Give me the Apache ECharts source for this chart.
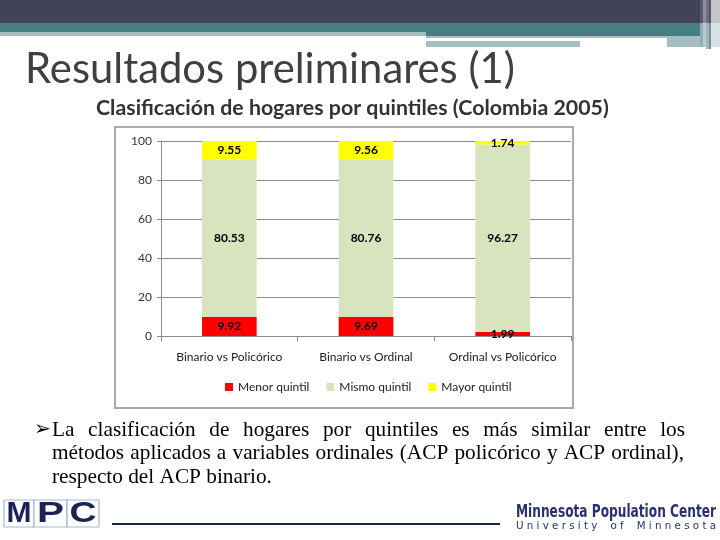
<!DOCTYPE html>
<html>
<head>
<meta charset="utf-8">
<script src="https://cdn.jsdelivr.net/npm/echarts@6/dist/echarts.min.js"></script>
<style>
html,body{margin:0;padding:0;background:#fff;}
#chart{width:720px;height:540px;}
</style>
</head>
<body>
<div id="chart"></div>
<script>
// ---- data ----
const categories = ['Binario vs Policórico', 'Binario vs Ordinal', 'Ordinal vs Policórico'];
const seriesNames = ['Menor quintil', 'Mismo quintil', 'Mayor quintil'];
const menorQuintil = [9.92, 9.69, 1.99];
const mismoQuintil = [80.53, 80.76, 96.27];
const mayorQuintil = [9.55, 9.56, 1.74];
const yTickValues = [0, 20, 40, 60, 80, 100];

// ---- texts ----
const slideTitle = 'Resultados preliminares (1)';
const chartTitle = 'Clasificación de hogares por quintiles (Colombia 2005)';
const bodyLines = [
  'La clasificación de hogares por quintiles es más similar entre los',
  'métodos aplicados a variables ordinales (ACP policórico y ACP ordinal),',
  'respecto del ACP binario.'
];
const logoLetters = ['M', 'P', 'C'];
const centerName = 'Minnesota Population Center';
const univName = 'University of Minnesota';

// ---- helpers for text layout ----
const mctx = document.createElement('canvas').getContext('2d');
function measure(text, size, family, weight) {
  mctx.font = (weight || 'normal') + ' ' + size + 'px ' + family;
  return mctx.measureText(text).width;
}
function fitSize(text, target, family, weight) {
  const w = measure(text, 40, family, weight);
  return 40 * target / w;
}

const graphics = [];
// header bars
graphics.push(
  {type:'rect', shape:{x:0,y:0,width:700,height:23}, style:{fill:'#434357'}},
  {type:'rect', shape:{x:0,y:23,width:426,height:9}, style:{fill:'#457f82'}},
  {type:'rect', shape:{x:426,y:23,width:274,height:13}, style:{fill:'#457f82'}},
  {type:'rect', shape:{x:0,y:32,width:426,height:4}, style:{fill:'#a5bfc1'}},
  {type:'rect', shape:{x:426,y:36,width:274,height:11}, style:{fill:'#a5bfc1'}},
  {type:'rect', shape:{x:426,y:38,width:241,height:3}, style:{fill:'#ffffff'}},
  {type:'rect', shape:{x:580,y:41,width:87,height:6}, style:{fill:'#ffffff'}},
  // right stripes
  {type:'rect', shape:{x:700,y:0,width:20,height:23}, style:{fill:'#c4c4cc'}},
  {type:'rect', shape:{x:700,y:0,width:3,height:23}, style:{fill:'#5a5a6e'}},
  {type:'rect', shape:{x:703,y:0,width:3,height:23}, style:{fill:'#8e8e9c'}},
  {type:'rect', shape:{x:706,y:0,width:3,height:23}, style:{fill:'#6e6e80'}},
  {type:'rect', shape:{x:709,y:0,width:2,height:23}, style:{fill:'#555566'}},
  {type:'rect', shape:{x:700,y:23,width:20,height:24}, style:{fill:'#d6e2e3'}},
  {type:'rect', shape:{x:700,y:23,width:3,height:24}, style:{fill:'#8fb0b2'}},
  {type:'rect', shape:{x:703,y:23,width:3,height:24}, style:{fill:'#b8cccd'}},
  {type:'rect', shape:{x:706,y:23,width:3,height:26}, style:{fill:'#9fb7b9'}},
  {type:'rect', shape:{x:709,y:23,width:2,height:26}, style:{fill:'#7f8f95'}}
);

// slide title
const titleFamily = 'Lato';
const tFont = 42;
const tW = measure(slideTitle, tFont, titleFamily, 'normal');
graphics.push({type:'text', x:25, y:69, scaleX:490/tW, style:{text:slideTitle, x:0, y:0, fontSize:tFont, fontFamily:titleFamily, fill:'#404040', verticalAlign:'middle', align:'left'}});

// chart title
const stSize = fitSize(chartTitle, 513, 'Lato', 'bold');
graphics.push({type:'text', x:96, y:108, style:{text:chartTitle, fontSize:stSize, fontFamily:'Lato', fontWeight:'bold', fill:'#333333', verticalAlign:'middle', align:'left'}});

// chart box
graphics.push({type:'rect', shape:{x:115,y:127,width:458,height:281}, style:{fill:'none', stroke:'#aaaaaa', lineWidth:2}});

// body text
const bodyFamily = '"Liberation Serif"';
const bSize = fitSize(bodyLines[2], 220, bodyFamily, 'normal');
graphics.push({type:'text', x:34, y:430, style:{text:'➢', fontSize:bSize*0.95, fontFamily:'"DejaVu Sans"', fill:'#000', verticalAlign:'middle', align:'left'}});
const lineYs = [430, 453, 477];
const lineRight = [685, 684, null];
bodyLines.forEach((line, i) => {
  if (lineRight[i] === null) {
    graphics.push({type:'text', x:52, y:lineYs[i], style:{text:line, fontSize:bSize, fontFamily:bodyFamily, fill:'#000', verticalAlign:'middle', align:'left'}});
    return;
  }
  const words = line.split(' ');
  const widths = words.map(w => measure(w, bSize, bodyFamily, 'normal'));
  const total = widths.reduce((a,b)=>a+b,0);
  const gap = (lineRight[i] - 52 - total) / (words.length - 1);
  let x = 52;
  words.forEach((w, k) => {
    graphics.push({type:'text', x:x, y:lineYs[i], style:{text:w, fontSize:bSize, fontFamily:bodyFamily, fill:'#000', verticalAlign:'middle', align:'left'}});
    x += widths[k] + gap;
  });
});

// MPC logo
const boxXs = [[4,34],[34,67],[67,99]];
logoLetters.forEach((L, i) => {
  const [x0, x1] = boxXs[i];
  graphics.push({type:'rect', shape:{x:x0,y:500,width:x1-x0,height:27}, style:{fill:'#ffffff', stroke:'#a9b6cf', lineWidth:1.2}});
  const lw = measure(L, 30, '"Liberation Sans"', 'bold');
  graphics.push({type:'text', x:(x0+x1)/2, y:514, scaleX:Math.min(1.35, (x1-x0-5)/lw), style:{text:L, x:0, y:0, fontSize:30, fontFamily:'"Liberation Sans"', fontWeight:'bold', fill:'#1b2356', verticalAlign:'middle', align:'center'}});
});
graphics.push({type:'line', shape:{x1:112,y1:524,x2:500,y2:524}, style:{stroke:'#1b2356', lineWidth:2}});

// Minnesota Population Center
const cFamily = '"DejaVu Sans Condensed", "DejaVu Sans"';
const cW = measure(centerName, 17, cFamily, '600');
graphics.push({type:'text', x:516, y:513, scaleX:200/cW, style:{text:centerName, x:0, y:0, fontSize:17, fontFamily:cFamily, fontWeight:'600', fill:'#2b3070', verticalAlign:'middle', align:'left'}});
const spaced = univName.split('').join(' ').replace(/   /g, '    ');
const uW = measure(spaced, 10, '"DejaVu Sans"', 'normal');
graphics.push({type:'text', x:516, y:526, scaleX:200/uW, style:{text:spaced, x:0, y:0, fontSize:10, fontFamily:'"DejaVu Sans"', fill:'#2b3070', verticalAlign:'middle', align:'left'}});

const chart = echarts.init(document.getElementById('chart'), null, {renderer:'canvas'});
const labelStyle = {show:true, position:'inside', fontSize:12, fontWeight:'bold', color:'#000', fontFamily:'Lato', formatter: p => p.value.toFixed(2)};
const colors = ['#ff0000', '#d7e4bd', '#ffff00'];
const allSeries = [menorQuintil, mismoQuintil, mayorQuintil].map((vals, i) => ({
  name: seriesNames[i],
  type: 'bar',
  stack: 'total',
  barWidth: '40%',
  data: vals,
  itemStyle: {color: colors[i]},
  label: labelStyle,
  emphasis: {disabled: true}
}));

chart.setOption({
  animation: false,
  textStyle: {fontFamily: 'Lato'},
  grid: {left:161, right:149, top:141, bottom:204},
  legend: {
    left: 220, top: 376,
    icon: 'rect', itemWidth: 8, itemHeight: 8, itemGap: 17,
    textStyle: {fontSize: 12, color: '#222', fontFamily: 'Lato'},
    selectedMode: false,
    data: seriesNames
  },
  xAxis: {
    type: 'category',
    data: categories,
    axisLine: {lineStyle: {color: '#8c8c8c'}},
    axisTick: {show: true, length: 5, lineStyle: {color: '#8c8c8c'}},
    axisLabel: {interval: 0, fontSize: 12, color: '#222', margin: 15, fontFamily: 'Lato'}
  },
  yAxis: {
    type: 'value',
    min: yTickValues[0], max: yTickValues[yTickValues.length-1], interval: 20,
    axisLine: {show: true, lineStyle: {color: '#8c8c8c'}},
    axisTick: {show: true, length: 4, lineStyle: {color: '#8c8c8c'}},
    splitLine: {lineStyle: {color: '#8c8c8c'}},
    axisLabel: {fontSize: 12, color: '#333', margin: 9, fontFamily: 'Lato'}
  },
  series: allSeries,
  graphic: graphics
});
</script>
</body>
</html>
